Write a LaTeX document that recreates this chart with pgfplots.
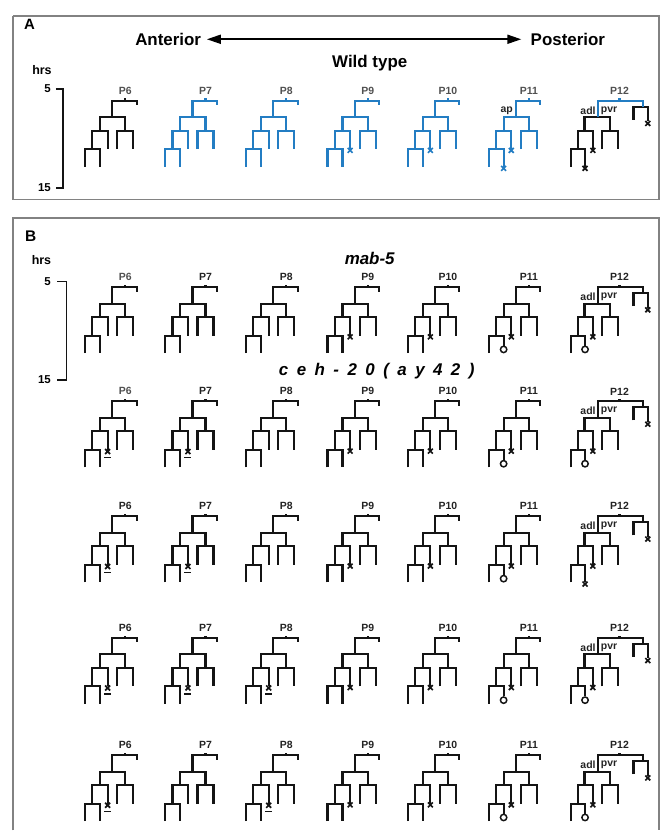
\documentclass[border=0pt]{standalone}
\usepackage{pgfplots}
\pgfplotsset{compat=1.18}
\usepackage{pgfplotstable}
\usetikzlibrary{arrows.meta}
\usepackage{fontspec}
\setmainfont{Liberation Sans}
\newfontfamily\spaced[LetterSpace=50]{Liberation Sans}
\definecolor{wtblue}{RGB}{35,125,195}
\definecolor{lin}{RGB}{20,20,20}
\definecolor{frm}{RGB}{130,130,130}
\definecolor{labA}{RGB}{80,80,80}
\definecolor{labB}{RGB}{35,35,35}

% ---- lineage shapes (offsets from the P-cell tick, in px; y downwards) ----
\pgfplotstableread{
x y
-13 16.6
-13 0
11.4 0
11.4 4.5
nan nan
0 0
0 -2.2
nan nan
-25.3 30
-25.3 16.6
0 16.6
0 30
nan nan
-8 48.6
-8 30
8 30
8 48.6
nan nan
-33 48.6
-33 30
-17.6 30
-17.6 48.6
nan nan
-40.3 66
-40.3 48.6
-25.3 48.6
-25.3 66
}\treeP
\pgfplotstableread{
x y
-13 16.6
-13 0
11.4 0
11.4 4.5
nan nan
0 0
0 -2.2
nan nan
-25.3 30
-25.3 16.6
0 16.6
0 30
nan nan
-8 48.6
-8 30
8 30
8 48.6
nan nan
-33 48.6
-33 30
-17.6 30
-17.6 48.6
nan nan
-40.3 66
-40.3 48.6
-25.3 48.6
-25.3 58.6
}\treeO
\pgfplotstableread{
x y
-21.7 16.6
-21.7 0
23.3 0
23.3 6
nan nan
0 0
0 -2.2
}\twTop
\pgfplotstableread{
x y
14 19
14 6
28.3 6
28.3 20.5
}\twSub
\pgfplotstableread{
x y
-35 30
-35 16.6
-9.3 16.6
-9.3 30
nan nan
-17.3 48.6
-17.3 30
-1.7 30
-1.7 48.6
nan nan
-41.5 48.6
-41.5 30
-26.7 30
-26.7 48.6
nan nan
-48.5 66
-48.5 48.6
-34.5 48.6
-34.5 66
}\twBodyP
\pgfplotstableread{
x y
-35 30
-35 16.6
-9.3 16.6
-9.3 30
nan nan
-17.3 48.6
-17.3 30
-1.7 30
-1.7 48.6
nan nan
-41.5 48.6
-41.5 30
-26.7 30
-26.7 48.6
nan nan
-48.5 66
-48.5 48.6
-34.5 48.6
-34.5 58.6
}\twBodyO
% ---- marks ----
\pgfplotstableread{
x y
-17.6 49.8
}\mX
\pgfplotstableread{
x y
-17.6 49.8
-25.3 67.8
}\mXX
\pgfplotstableread{
x y
-25.3 62.4
}\mO
\pgfplotstableread{
x y
-17.6 50.2
}\mXu
\pgfplotstableread{
x y
-21.2 56.3
-14.2 56.3
}\mU
\pgfplotstableread{
x y
-26.7 49.8
28.3 22.8
}\tX
\pgfplotstableread{
x y
-26.7 49.8
28.3 22.8
-34.5 67.8
}\tXX
\pgfplotstableread{
x y
-34.5 62.4
}\tO
% frames
\pgfplotstableread{
x y
13 16
659.5 16
659.5 200
13 200
13 16
}\frameA
\pgfplotstableread{
x y
13 831
13 218.3
659.5 218.3
659.5 831
}\frameB

\newcommand{\tr}[4]{\addplot[draw=#4, line width=2.2pt, mark=none, unbounded coords=jump] table[x expr=\thisrow{x}+#2, y expr=\thisrow{y}+#3]{#1};}
\newcommand{\xm}[4]{\addplot[only marks, mark=x, mark size=3.5, mark options={draw=#4, line width=1.7pt}] table[x expr=\thisrow{x}+#2, y expr=\thisrow{y}+#3]{#1};}
\newcommand{\om}[3]{\addplot[only marks, mark=o, mark size=3.2, mark options={draw=lin, fill=white, line width=1.5pt}] table[x expr=\thisrow{x}+#2, y expr=\thisrow{y}+#3]{#1};}
\newcommand{\ul}[2]{\xm{\mXu}{#1}{#2}{lin}\addplot[draw=lin, line width=1.4pt, mark=none] table[x expr=\thisrow{x}+#1, y expr=\thisrow{y}+#2]{\mU};}
\newcommand{\plfont}{\fontsize{10.5}{12}\selectfont\bfseries}
\newcommand{\plab}[4]{\node[font=\plfont, text=#4] at (axis cs:#1,#2) {#3};}
% P12 variants
\newcommand{\twO}[1]{\tr{\twTop}{620}{#1}{lin}\tr{\twSub}{620}{#1}{lin}\tr{\twBodyO}{620}{#1}{lin}\xm{\tX}{620}{#1}{lin}\om{\tO}{620}{#1}}
\newcommand{\twX}[1]{\tr{\twTop}{620}{#1}{lin}\tr{\twSub}{620}{#1}{lin}\tr{\twBodyP}{620}{#1}{lin}\xm{\tXX}{620}{#1}{lin}}
\newcommand{\adlpvr}[1]{\node[font=\plfont, text=labB, anchor=east, inner sep=0pt] at (axis cs:596.2,#1) {adl};\node[font=\plfont, text=labB, anchor=west, inner sep=0pt] at (axis cs:601.2,#1) {pvr};}

\begin{document}
\begin{tikzpicture}
\begin{axis}[
  width=662bp, height=831bp, scale only axis,
  xmin=0, xmax=662, ymin=0, ymax=831, y dir=reverse,
  hide axis, clip=false, enlargelimits=false,
]
\addplot[draw=none, mark=none] coordinates {(0,0) (662,831)};
% frames
\addplot[draw=frm, line width=1.3pt, mark=none] table {\frameA};
\addplot[draw=frm, line width=1.3pt, mark=none] table {\frameB};

% ================= Panel A =================
\node[font=\fontsize{15}{17}\selectfont\bfseries] at (axis cs:29.5,24) {A};
\node[font=\fontsize{17}{20}\selectfont\bfseries] at (axis cs:168.3,39.3) {Anterior};
\node[font=\fontsize{17}{20}\selectfont\bfseries] at (axis cs:568.3,39.3) {Posterior};
\addplot[draw=black, line width=1.9pt, mark=none, {Triangle[length=14pt,width=9pt]}-{Triangle[length=14pt,width=9pt]}] coordinates {(207,39.3) (521.7,39.3)};
\node[font=\fontsize{17}{20}\selectfont\bfseries] at (axis cs:370,62.7) {Wild type};
\node[font=\fontsize{12.5}{14}\selectfont\bfseries] at (axis cs:42,70) {hrs};
\node[font=\fontsize{11.5}{13}\selectfont\bfseries, anchor=east, inner sep=0pt] at (axis cs:51,89) {5};
\node[font=\fontsize{11.5}{13}\selectfont\bfseries, anchor=east, inner sep=0pt] at (axis cs:51,188) {15};
\addplot[draw=lin, line width=1.6pt, mark=none] coordinates {(56,89) (63.3,89) (63.3,188) (56,188)};

\plab{125.3}{90.5}{P6}{labA}
\plab{205.7}{90.5}{P7}{labA}
\plab{286.5}{90.5}{P8}{labA}
\plab{368}{90.5}{P9}{labA}
\plab{448.3}{90.5}{P10}{labA}
\plab{529.3}{90.5}{P11}{labA}
\plab{620}{90.5}{P12}{labA}
\node[font=\plfont, text=labB] at (axis cs:507,111) {ap};
\adlpvr{110.5}

\tr{\treeP}{125.3}{100.7}{lin}
\tr{\treeP}{205.7}{100.7}{wtblue}
\tr{\treeP}{286.5}{100.7}{wtblue}
\tr{\treeP}{368}{100.7}{wtblue}
\xm{\mX}{368}{100.7}{wtblue}
\tr{\treeP}{448.3}{100.7}{wtblue}
\xm{\mX}{448.3}{100.7}{wtblue}
\tr{\treeP}{529.3}{100.7}{wtblue}
\xm{\mXX}{529.3}{100.7}{wtblue}
\tr{\twSub}{620}{100.7}{lin}
\tr{\twBodyP}{620}{100.7}{lin}
\tr{\twTop}{620}{100.7}{wtblue}
\xm{\tXX}{620}{100.7}{lin}

% ================= Panel B =================
\node[font=\fontsize{15.5}{17}\selectfont\bfseries] at (axis cs:30.8,236) {B};
\node[font=\fontsize{12.5}{14}\selectfont\bfseries] at (axis cs:41.5,260) {hrs};
\node[font=\fontsize{11.5}{13}\selectfont\bfseries, anchor=east, inner sep=0pt] at (axis cs:51,281.7) {5};
\node[font=\fontsize{11.5}{13}\selectfont\bfseries, anchor=east, inner sep=0pt] at (axis cs:51,380) {15};
\addplot[draw=lin, line width=1.6pt, mark=none] coordinates {(57.5,281.7) (66.5,281.7) (66.5,380) (57.5,380)};
\node[font=\fontsize{17}{20}\selectfont\bfseries\itshape] at (axis cs:370,258.3) {mab-5};
\node[font=\fontsize{17}{20}\selectfont\spaced\bfseries\itshape] at (axis cs:377,371.7) {ceh-20(ay42)};

% --- row 1 (top 287.3) ---
\plab{125.3}{277.3}{P6}{labA}
\plab{205.7}{277.3}{P7}{labB}
\plab{286.5}{277.3}{P8}{labB}
\plab{368}{277.3}{P9}{labB}
\plab{448.3}{277.3}{P10}{labB}
\plab{529.3}{277.3}{P11}{labB}
\plab{620}{277.3}{P12}{labB}
\adlpvr{297}
\tr{\treeP}{125.3}{287.3}{lin}
\tr{\treeP}{205.7}{287.3}{lin}
\tr{\treeP}{286.5}{287.3}{lin}
\tr{\treeP}{368}{287.3}{lin}
\xm{\mX}{368}{287.3}{lin}
\tr{\treeP}{448.3}{287.3}{lin}
\xm{\mX}{448.3}{287.3}{lin}
\tr{\treeO}{529.3}{287.3}{lin}
\xm{\mX}{529.3}{287.3}{lin}
\om{\mO}{529.3}{287.3}
\twO{287.3}

% --- row 2 (top 401.7) ---
\plab{125.3}{391.7}{P6}{labA}
\plab{205.7}{391.7}{P7}{labB}
\plab{286.5}{391.7}{P8}{labB}
\plab{368}{391.7}{P9}{labB}
\plab{448.3}{391.7}{P10}{labB}
\plab{529.3}{391.7}{P11}{labB}
\plab{620}{391.7}{P12}{labB}
\adlpvr{411.5}
\tr{\treeP}{125.3}{401.7}{lin}
\ul{125.3}{401.7}
\tr{\treeP}{205.7}{401.7}{lin}
\ul{205.7}{401.7}
\tr{\treeP}{286.5}{401.7}{lin}
\tr{\treeP}{368}{401.7}{lin}
\xm{\mX}{368}{401.7}{lin}
\tr{\treeP}{448.3}{401.7}{lin}
\xm{\mX}{448.3}{401.7}{lin}
\tr{\treeO}{529.3}{401.7}{lin}
\xm{\mX}{529.3}{401.7}{lin}
\om{\mO}{529.3}{401.7}
\twO{401.7}

% --- row 3 (top 516.7) ---
\plab{125.3}{506.7}{P6}{labB}
\plab{205.7}{506.7}{P7}{labB}
\plab{286.5}{506.7}{P8}{labB}
\plab{368}{506.7}{P9}{labB}
\plab{448.3}{506.7}{P10}{labB}
\plab{529.3}{506.7}{P11}{labB}
\plab{620}{506.7}{P12}{labB}
\adlpvr{526.5}
\tr{\treeP}{125.3}{516.7}{lin}
\ul{125.3}{516.7}
\tr{\treeP}{205.7}{516.7}{lin}
\ul{205.7}{516.7}
\tr{\treeP}{286.5}{516.7}{lin}
\tr{\treeP}{368}{516.7}{lin}
\xm{\mX}{368}{516.7}{lin}
\tr{\treeP}{448.3}{516.7}{lin}
\xm{\mX}{448.3}{516.7}{lin}
\tr{\treeO}{529.3}{516.7}{lin}
\xm{\mX}{529.3}{516.7}{lin}
\om{\mO}{529.3}{516.7}
\twX{516.7}

% --- row 4 (top 638.3) ---
\plab{125.3}{628.3}{P6}{labB}
\plab{205.7}{628.3}{P7}{labB}
\plab{286.5}{628.3}{P8}{labB}
\plab{368}{628.3}{P9}{labB}
\plab{448.3}{628.3}{P10}{labB}
\plab{529.3}{628.3}{P11}{labB}
\plab{620}{628.3}{P12}{labB}
\adlpvr{648}
\tr{\treeP}{125.3}{638.3}{lin}
\ul{125.3}{638.3}
\tr{\treeP}{205.7}{638.3}{lin}
\ul{205.7}{638.3}
\tr{\treeP}{286.5}{638.3}{lin}
\ul{286.5}{638.3}
\tr{\treeP}{368}{638.3}{lin}
\xm{\mX}{368}{638.3}{lin}
\tr{\treeP}{448.3}{638.3}{lin}
\xm{\mX}{448.3}{638.3}{lin}
\tr{\treeO}{529.3}{638.3}{lin}
\xm{\mX}{529.3}{638.3}{lin}
\om{\mO}{529.3}{638.3}
\twO{638.3}

% --- row 5 (top 755.7) ---
\plab{125.3}{745.7}{P6}{labB}
\plab{205.7}{745.7}{P7}{labB}
\plab{286.5}{745.7}{P8}{labB}
\plab{368}{745.7}{P9}{labB}
\plab{448.3}{745.7}{P10}{labB}
\plab{529.3}{745.7}{P11}{labB}
\plab{620}{745.7}{P12}{labB}
\adlpvr{765.5}
\tr{\treeP}{125.3}{755.7}{lin}
\ul{125.3}{755.7}
\tr{\treeP}{205.7}{755.7}{lin}
\tr{\treeP}{286.5}{755.7}{lin}
\ul{286.5}{755.7}
\tr{\treeP}{368}{755.7}{lin}
\xm{\mX}{368}{755.7}{lin}
\tr{\treeP}{448.3}{755.7}{lin}
\xm{\mX}{448.3}{755.7}{lin}
\tr{\treeO}{529.3}{755.7}{lin}
\xm{\mX}{529.3}{755.7}{lin}
\om{\mO}{529.3}{755.7}
\twO{755.7}
\end{axis}
\end{tikzpicture}
\end{document}
